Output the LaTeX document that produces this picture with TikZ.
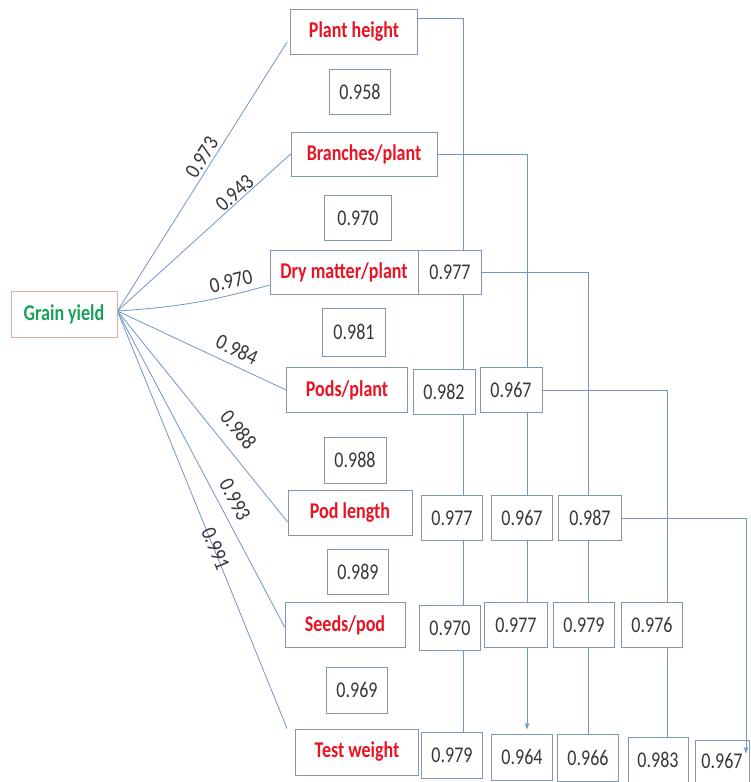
\documentclass[tikz,border=0pt]{standalone}
\usepackage{fontspec}
\setmainfont{Carlito}
\usetikzlibrary{backgrounds,calc,arrows.meta}
\definecolor{boxc}{RGB}{130,150,180}
\definecolor{linec}{RGB}{115,150,200}
\definecolor{redc}{RGB}{232,20,35}
\definecolor{greenc}{RGB}{25,160,90}
\definecolor{gyc}{RGB}{225,175,160}
\definecolor{numc}{RGB}{55,55,60}
\newcommand{\vt}[1]{\scalebox{1}[1.25]{#1}}
\newcommand{\vl}[1]{\scalebox{1}[1.15]{#1}}
\begin{document}
\begin{tikzpicture}[x=1pt,y=-1pt,
  base/.style={draw=boxc, line width=0.8pt, fill=white, inner sep=0pt, font=\fontsize{18}{20}\selectfont},
  num/.style={base, text=numc, minimum width=61pt, minimum height=45pt},
  trait/.style={base, text=redc, font=\fontsize{18}{20}\selectfont\bfseries, minimum height=45pt},
  conn/.style={draw=linec, line width=0.8pt},
  lbl/.style={sloped, text=numc, inner sep=0pt, font=\fontsize{19}{21}\selectfont},
  tip/.style={-{Stealth[length=7pt,width=5pt]}}
]
\useasboundingbox (0,0) rectangle (750,782);

% grain yield
\node[base, draw=gyc, text=greenc, font=\fontsize{18}{20}\selectfont\bfseries,
      minimum width=106pt, minimum height=46pt] (gy) at (64,314) {\vt{Grain yield}};

% traits
\node[trait, minimum width=127pt] (ph) at (354,32) {\vt{Plant height}};
\node[trait, minimum width=146pt, minimum height=44pt] (br) at (364,154) {\vt{Branches/plant}};
\node[trait, minimum width=148pt, minimum height=44pt] (dm) at (344,272) {\vt{Dry matter/plant}};
\node[trait, minimum width=121pt] (pp) at (347,390) {\vt{Pods/plant}};
\node[trait, minimum width=124pt] (pl) at (350,513) {\vt{Pod length}};
\node[trait, minimum width=120pt] (sp) at (345,625) {\vt{Seeds/pod}};
\node[trait, minimum width=123pt, minimum height=46pt] (tw) at (357,752) {\vt{Test weight}};

% numbers between traits
\node[num] (n958) at (360,92) {\vt{0.958}};
\node[num, minimum width=67pt] (n970) at (358,218) {\vt{0.970}};
\node[num, minimum width=63pt, minimum height=48pt] (n981) at (354,332) {\vt{0.981}};
\node[num, minimum width=62pt, minimum height=46pt] (n988) at (355,460) {\vt{0.988}};
\node[num] (n989) at (358,572) {\vt{0.989}};
\node[num, minimum height=46pt] (n969) at (357,690) {\vt{0.969}};

% matrix values
\node[num, minimum width=63pt, minimum height=44pt] (dm1) at (450,272) {\vt{0.977}};
\node[num, minimum width=62pt] (pp1) at (444,392) {\vt{0.982}};
\node[num, minimum width=62pt] (pp2) at (511,390) {\vt{0.967}};
\node[num] (pl1) at (452,518) {\vt{0.977}};
\node[num] (pl2) at (522,518) {\vt{0.967}};
\node[num, minimum width=63pt] (pl3) at (590,518) {\vt{0.987}};
\node[num] (sp1) at (450,628) {\vt{0.970}};
\node[num, minimum width=63pt] (sp2) at (516,625) {\vt{0.977}};
\node[num] (sp3) at (584,625) {\vt{0.979}};
\node[num] (sp4) at (652,625) {\vt{0.976}};
\node[num, minimum height=46pt] (tw1) at (452,755) {\vt{0.979}};
\node[num, minimum height=46pt] (tw2) at (522,757) {\vt{0.964}};
\node[num, minimum height=47pt] (tw3) at (588,758) {\vt{0.966}};
\node[num, minimum width=60pt] (tw4) at (658,760) {\vt{0.983}};
\node[num, minimum width=54pt, minimum height=42pt] (tw5) at (722,761) {\vt{0.967}};

% column x positions
\coordinate (c1) at (463,0);
\coordinate (c2) at (527,0);
\coordinate (c3) at (588,0);
\coordinate (c4) at (667,0);
\coordinate (c5) at (746,0);
\coordinate (o) at ([yshift=3pt]gy.east);

\begin{scope}[on background layer]
  \fill[white] (0,0) rectangle (750,782);
  \draw[conn] ([yshift=14pt]ph.east) -| (c1 |- tw1.north);
  \draw[conn, tip, shorten >=4pt] (br.east) -| (c2 |- tw2.north);
  \draw[conn] (dm1.east) -| (c3 |- tw3.north);
  \draw[conn] (pp2.east) -| (c4 |- tw4.north);

  \draw[conn] (o) -- node[lbl, pos=.55, above=3pt]{\vl{0.973}} ([xshift=-3pt,yshift=-10pt]ph.west);
  \draw[conn] (o) -- node[lbl, pos=.71, above=1pt]{\vl{0.943}} (br.west);
  \draw[conn] (o) to[bend right=6] node[lbl, pos=.78, above=6pt]{\vl{0.970}} ([yshift=-13pt]dm.west);
  \draw[conn] (o) -- node[lbl, pos=.67, above=8pt]{\vl{0.984}} (pp.west);
  \draw[conn] (o) -- node[lbl, pos=.62, above=12pt]{\vl{0.988}} ([yshift=-9pt]pl.west);
  \draw[conn] (o) -- node[lbl, pos=.62, above=8pt]{\vl{0.993}} ([yshift=-2pt]sp.west);
  \draw[conn] (o) -- node[lbl, pos=.57, above=-6pt]{\vl{0.991}} ([xshift=-8pt]tw.north west);
\end{scope}

\draw[conn, tip] (pl3.east) -| ($(c5 |- tw5.north)+(0,14)$);
\end{tikzpicture}
\end{document}
